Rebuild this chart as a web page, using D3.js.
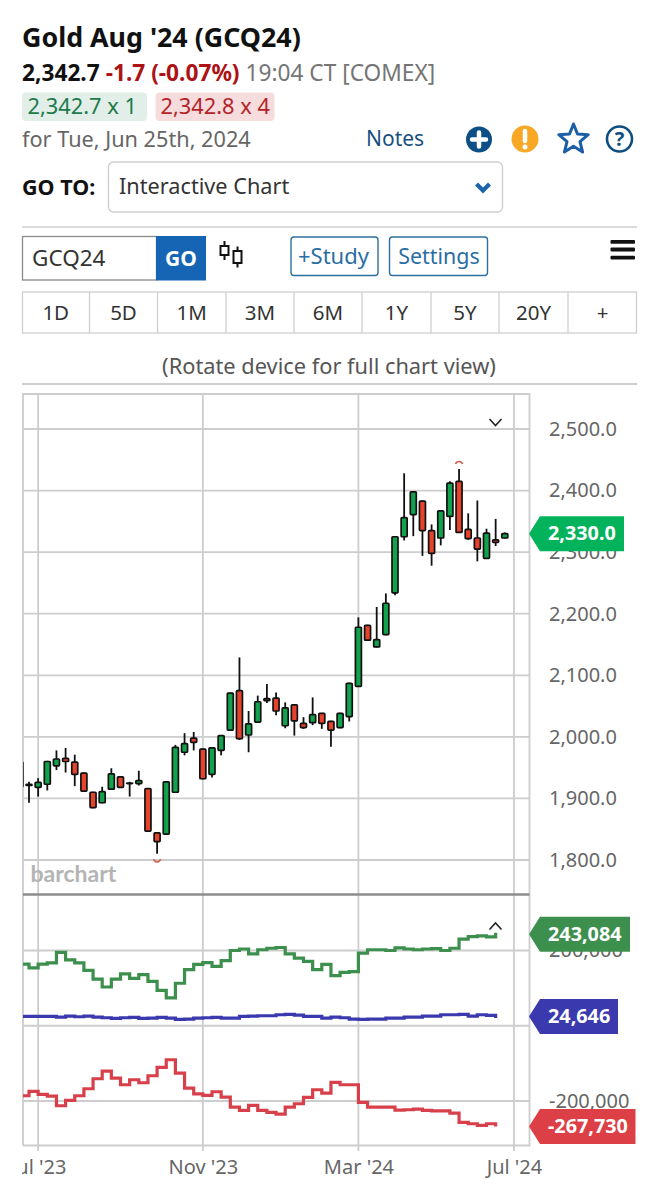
<!DOCTYPE html>
<html><head><meta charset="utf-8">
<script src="https://cdnjs.cloudflare.com/ajax/libs/d3/7.8.5/d3.min.js"></script>
<style>html,body{margin:0;padding:0;background:#fff}svg{display:block}text{font-family:"Noto Sans",sans-serif}</style>
</head><body><div id="c"></div>
<script>
// ---------- data ----------
const opens  = [1919,1921,1918,1923,1953,1965,1959,1941,1910,1893,1915,1935,1924,1924,1916,1844,1842,1910,1975,1998,1980,1939,1978,2011,2075,2003,2024,2062,2063,2018,2052,2022,2023,2038,2025,2015,2033,2082,2181,2146,2166,2234,2325,2361,2383,2335,2323,2358,2415,2337,2323,2290,2320,2323];
const highs  = [1959,1927,1933,1961,1978,1982,1971,1942,1911,1919,1949,1936,1927,1945,1917,1845,1928,1987,2006,2008,1981,1983,2003,2072,2129,2042,2067,2086,2072,2056,2053,2032,2064,2039,2026,2039,2088,2194,2182,2211,2233,2326,2428,2399,2384,2345,2368,2415,2435,2363,2384,2338,2354,2332];
const lows   = [1919,1893,1903,1913,1946,1942,1920,1911,1884,1892,1914,1917,1903,1921,1847,1810,1841,1909,1970,1978,1931,1934,1970,2010,1995,1975,2023,2055,2035,2014,2002,2013,2019,2013,1984,2014,2025,2081,2156,2145,2165,2230,2319,2326,2294,2278,2311,2336,2331,2320,2285,2289,2310,2322];
const closes = [1959,1923,1926,1960,1964,1960,1939,1912,1885,1911,1940,1918,1925,1929,1847,1830,1927,1983,1989,1991,1932,1982,2002,2071,1997,2021,2057,2059,2042,2047,2026,2015,2036,2022,2011,2038,2087,2178,2157,2158,2217,2325,2356,2398,2335,2298,2367,2412,2332,2322,2305,2331,2316,2330];

const commercials = [-186,-174.5,-182.5,-187,-212.6,-198.5,-186,-167.5,-140.9,-120.5,-139.1,-156.8,-143.5,-151.5,-132.9,-110.8,-90.4,-125.8,-165.7,-180.8,-185.2,-175.4,-189.6,-216.2,-225.1,-211.8,-225.1,-230.4,-234.8,-216.2,-207.3,-190.5,-170.1,-179,-150.6,-156.8,-156.8,-203.8,-216.2,-216.2,-216.2,-224.2,-223.3,-221.5,-225.1,-226,-226,-232.1,-257,-260.5,-264.9,-260.5,-263.2];
const largeSpecs = [164,154,164,167,195,175,167,147,124,103,124,138,126,136,118,94,74,113,149,163,168,158,173,200,204,191,202,206,208,191,180,171,149,163,133,142,144,193,202,202,200,207,204,202,204,205,200,206,230,237,239,236,243];
const smallSpecs = [24.8,24.8,24.8,24.8,23,25.7,23.9,25.7,23,21.3,19.5,21.3,22.1,19.5,20.4,22.1,20.4,16.8,17.7,20.4,21.3,22.1,20.4,20.4,24.8,25.7,26.6,26.6,29.2,30.1,28.3,24.8,24.8,20.4,23,21.3,17.7,16.8,17.7,17.7,20.4,20.4,23,23,25.7,25.7,29.2,29.2,30.1,25.7,29.2,27.5,24.6];

const priceTicks = [2500,2400,2300,2200,2100,2000,1900,1800];
const cotTicks = [200,0,-200];
const monthIdx = [2,20,37,54];
const monthLabels = ["Jul '23","Nov '23","Mar '24","Jul '24"];
const periods = ["1D","5D","1M","3M","6M","1Y","5Y","20Y","+"];
const lastPrice = 2330.0;
const lastCot = [243.084, 24.646, -267.730];
const lastCotLabels = ["243,084","24,646","-267,730"];

// ---------- setup ----------
const svg = d3.select("#c").append("svg").attr("width",658).attr("height",1200);
const L=23,R=529.5;
const x = d3.scaleLinear().domain([0,53]).range([19.85,504.8]);
const yP = d3.scaleLinear().domain([1800,2500]).range([860,429]);
const yC = d3.scaleLinear().domain([-200,200]).range([1101,950.5]);
const GRID="#cdcdcd";
const FONT='"Noto Sans",sans-serif';

function T(s,px,py,size,fill,weight,anchor){
  return svg.append("text").attr("x",px).attr("y",py).attr("font-size",size).attr("fill",fill)
    .attr("font-weight",weight||400).attr("text-anchor",anchor||"start").text(s);
}
function box(a,b,w,h,fill,stroke,r,sw){
  return svg.append("rect").attr("x",a).attr("y",b).attr("width",w).attr("height",h)
    .attr("fill",fill||"none").attr("stroke",stroke||"none").attr("rx",r||0).attr("stroke-width",sw||1);
}
function hr(a,b,py,c,sw){svg.append("line").attr("x1",a).attr("x2",b).attr("y1",py).attr("y2",py).attr("stroke",c).attr("stroke-width",sw);}

// ---------- header ----------
T("Gold Aug '24 (GCQ24)",22,47,26.8,"#111",700);
const q=svg.append("text").attr("x",22).attr("y",80.5).attr("font-size",22.7);
q.append("tspan").attr("font-weight",700).attr("fill","#111").text("2,342.7 ");
q.append("tspan").attr("font-weight",700).attr("fill","#ad1214").text("-1.7 (-0.07%) ");
q.append("tspan").attr("fill","#757575").text("19:04 CT [COMEX]");
box(22,92.5,125,28.5,"#e2efe8",null,4);
box(155.5,92.5,119,28.5,"#f6dcdc",null,4);
T("2,342.7 x 1",27.5,114,21.8,"#1c7a4c");
T("2,342.8 x 4",160.5,114,21.8,"#b3242a");
T("for Tue, Jun 25th, 2024",22,147,21.7,"#666");
T("Notes",366,146,21,"#17507f");

// icons
svg.append("circle").attr("cx",479).attr("cy",139.5).attr("r",13).attr("fill","#0b4f86");
svg.append("path").attr("d","M479 132.5V146.5M472 139.5H486").attr("stroke","#fff").attr("stroke-width",4.5).attr("stroke-linecap","round");
svg.append("circle").attr("cx",525).attr("cy",139).attr("r",13.5).attr("fill","#f9a826");
svg.append("path").attr("d","M525 131V141").attr("stroke","#fff").attr("stroke-width",4.5).attr("stroke-linecap","round");
svg.append("circle").attr("cx",525).attr("cy",147).attr("r",2.5).attr("fill","#fff");
const star=d3.range(10).map(i=>{const r=i%2?6.8:15.5,a=-Math.PI/2+i*Math.PI/5;return [573.5+r*Math.cos(a),139.5+r*Math.sin(a)];});
svg.append("path").attr("d",d3.line()(star)+"Z").attr("fill","none").attr("stroke","#1c5fa5").attr("stroke-width",3).attr("stroke-linejoin","round");
svg.append("circle").attr("cx",619.5).attr("cy",139).attr("r",12.5).attr("fill","none").attr("stroke","#0f4f80").attr("stroke-width",2.6);
T("?",619.5,146,20,"#0f4f80",700,"middle");

T("GO TO:",22,195,21.5,"#111",700);
box(108.5,162,394,50,"#fff","#cfcfcf",5,1.4);
T("Interactive Chart",119,194,21.7,"#333");
svg.append("path").attr("d","M476.5 184L483 190.5L489.5 184").attr("fill","none").attr("stroke","#1a65ad").attr("stroke-width",4.2);
hr(22,637,227,"#cfcfcf",1.5);

// toolbar
box(22.5,236.5,134,43.5,"#fff","#8a8a8a",0,1.3);
T("GCQ24",32,266,22.5,"#333");
box(156,236,50,44.5,"#1565b4");
T("GO",181,266,21,"#fff",700,"middle");
svg.append("path").attr("d","M224.5 241V246M224.5 255V260M237.5 246.5V251M237.5 263V267.5").attr("stroke","#111").attr("stroke-width",2);
box(220.5,246,8,9,"#fff","#111",0,2);
box(233.5,251,8,12,"#fff","#111",0,2);
box(291,237,87,38.5,"#fff","#2d6f9f",3,1.4);
T("+Study",333.5,264,22,"#2a6ea3",400,"middle");
box(389.5,237,98,38.5,"#fff","#2d6f9f",3,1.4);
T("Settings",439,264,21.4,"#2a6ea3",400,"middle");
[241.8,249.5,257.7].forEach(v=>box(610.5,v-1.9,24.5,3.8,"#111",null,1));

// period tabs
box(22.5,292,614,41,"#fff","#cfcfcf",0,1.3);
const tabEdges=[22,89.5,157.5,226,294,362,431,499,568,637];
periods.forEach((p,i)=>{
  if(i) svg.append("line").attr("x1",tabEdges[i]).attr("x2",tabEdges[i]).attr("y1",292).attr("y2",333).attr("stroke","#cfcfcf").attr("stroke-width",1.3);
  T(p,(tabEdges[i]+tabEdges[i+1])/2,319.5,20.5,"#333",400,"middle");
});
T("(Rotate device for full chart view)",329,374,21.8,"#555",400,"middle");
hr(22,637,384,"#cfcfcf",2);

// ---------- chart frame and grid ----------
const defs=svg.append("defs");
defs.append("clipPath").attr("id","plot").append("rect").attr("x",L).attr("y",394).attr("width",R-L).attr("height",752);
defs.append("clipPath").attr("id","xlab").append("rect").attr("x",22).attr("y",0).attr("width",636).attr("height",40);

// axes
const axP=svg.append("g").attr("transform",`translate(${R},0)`)
  .call(d3.axisRight(yP).tickValues(priceTicks).tickFormat(d3.format(",.1f")).tickSize(0).tickPadding(19.5));
const axC=svg.append("g").attr("transform",`translate(${R},0)`)
  .call(d3.axisRight(yC).tickValues(cotTicks).tickFormat(d=>d3.format(",")(d*1000).replace("\u2212","-")).tickSize(0).tickPadding(19.5));
[axP,axC].forEach(a=>{a.select(".domain").remove();
  a.selectAll("text").attr("font-size",20).attr("fill","#666").attr("font-family",FONT);});

// grid
const g=svg.append("g").attr("stroke",GRID).attr("stroke-width",1.8);
g.selectAll(".hp").data(priceTicks).join("line").attr("x1",L).attr("x2",R).attr("y1",d=>yP(d)).attr("y2",d=>yP(d));
g.selectAll(".hc").data(cotTicks).join("line").attr("x1",L).attr("x2",R).attr("y1",d=>yC(d)).attr("y2",d=>yC(d));
g.selectAll(".v").data(monthIdx).join("line").attr("x1",d=>x(d)).attr("x2",d=>x(d)).attr("y1",394).attr("y2",1151);
svg.append("path").attr("d",`M${L} 1145.5V394H${R}V1145.5H${L}`).attr("fill","none").attr("stroke",GRID).attr("stroke-width",1.8);
hr(L,R,894.5,"#8d8d8d",2.6);

// x axis labels
const axX=svg.append("g").attr("transform","translate(0,1151)").attr("clip-path","url(#xlab)")
  .call(d3.axisBottom(x).tickValues(monthIdx).tickFormat((d,i)=>monthLabels[i]).tickSize(0).tickPadding(8.5));
axX.select(".domain").remove();
axX.selectAll("text").attr("font-size",20).attr("fill","#666").attr("font-family",FONT);

// watermark
T("barchart",30.5,882,23,"#b4b4b4",700).style("font-family","Lato,sans-serif");

// ---------- candles ----------
const plot=svg.append("g").attr("clip-path","url(#plot)");
const UP="#12a24e",DOWN="#e6432c";
const c=plot.selectAll(".candle").data(opens.map((o,i)=>({i,o,h:highs[i],l:lows[i],c:closes[i]}))).join("g");
c.append("line").attr("x1",d=>x(d.i)).attr("x2",d=>x(d.i)).attr("y1",d=>yP(d.h)).attr("y2",d=>yP(d.l)).attr("stroke","#111").attr("stroke-width",1.8);
c.append("rect").attr("x",d=>x(d.i)-3).attr("width",6)
  .attr("y",d=>yP(Math.max(d.o,d.c))).attr("height",d=>Math.max(0.6,Math.abs(yP(d.o)-yP(d.c))))
  .attr("fill",d=>d.c>=d.o?UP:DOWN).attr("stroke","#111").attr("stroke-width",1.7).attr("rx",0.8);

// high / low markers
const iHi=d3.maxIndex(highs), iLo=d3.minIndex(lows);
const mark=(cx,cy,up)=>`M${cx-3.5} ${cy}A3.7 3.7 0 0 ${up?1:0} ${cx+3.5} ${cy}`;
svg.append("path").attr("d",mark(x(iHi),yP(highs[iHi])-5,true)).attr("fill","none").attr("stroke","#d0604f").attr("stroke-width",1.7);
svg.append("path").attr("d",mark(x(iLo),yP(lows[iLo])+5.5,false)).attr("fill","none").attr("stroke","#d0604f").attr("stroke-width",1.7);

// ---------- COT lines ----------
const stepLine=d3.line().x((d,i)=>x(i)).y(d=>yC(d)).curve(d3.curveStepAfter);
const sCols=["#3c8f4c","#3a39ae","#d7404a"];
[largeSpecs,smallSpecs,commercials].forEach((s,k)=>{
  plot.append("path").attr("d",stepLine(s)).attr("fill","none").attr("stroke",sCols[k]).attr("stroke-width",3.2).attr("stroke-linecap","square");
});

// collapse chevrons
svg.append("path").attr("d","M489.5 419L495.5 425.5L501.5 419").attr("fill","none").attr("stroke","#222").attr("stroke-width",1.6);
svg.append("path").attr("d","M489.5 929.5L495.5 923L501.5 929.5").attr("fill","none").attr("stroke","#222").attr("stroke-width",1.6);

// ---------- last-value flags ----------
function flag(cy,right,fill,label){
  svg.append("path").attr("d",`M529 ${cy}L540 ${cy-17.5}H${right}V${cy+17.5}H540Z`).attr("fill",fill);
  T(label,548,cy+6.8,19.8,"#fff",700);
}
flag(yP(lastPrice),624,"#03b35b",d3.format(",.1f")(lastPrice));
const fc=["#3c8f4c","#3a39ae","#dc3f45"],fr=[630,618,635.5];
lastCot.forEach((v,i)=>flag(yC(v),fr[i],fc[i],lastCotLabels[i]));
</script></body></html>
